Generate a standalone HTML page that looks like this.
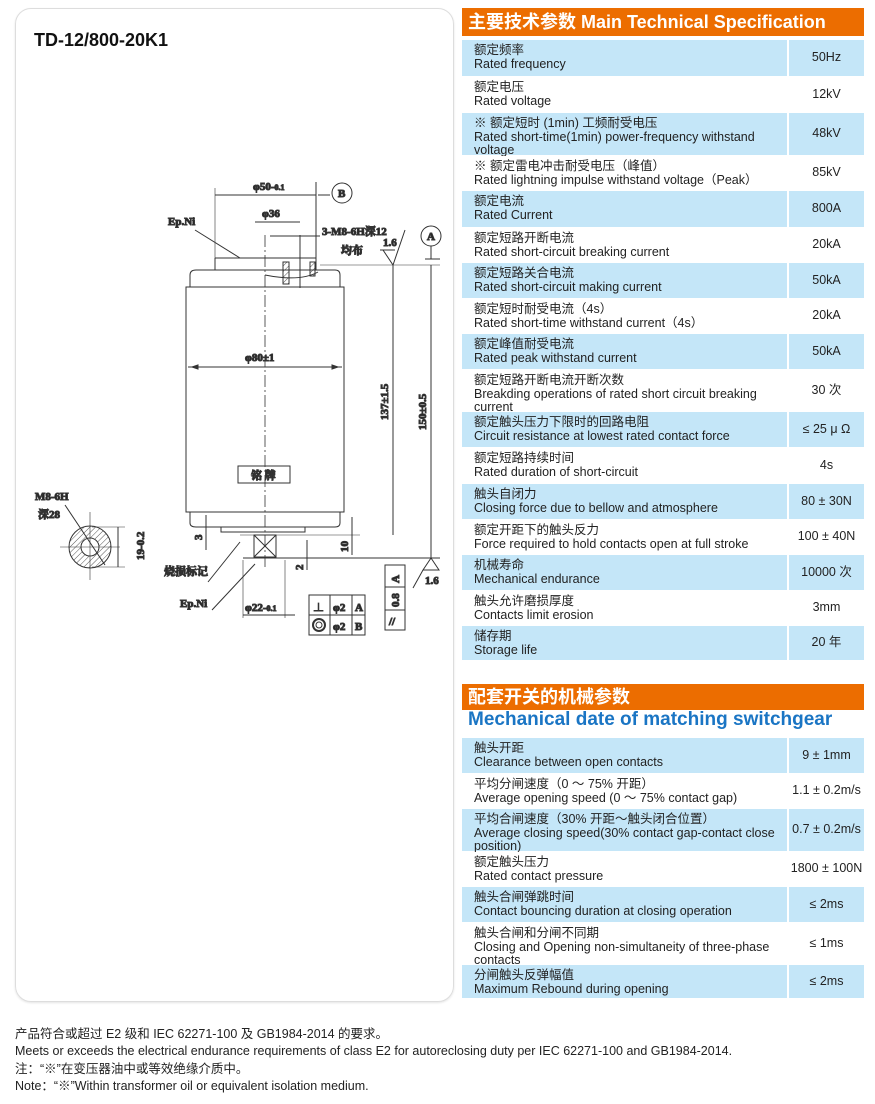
<!DOCTYPE html>
<html><head><meta charset="utf-8"><style>
body{margin:0;width:875px;height:1104px;background:#fff;position:relative;font-family:"Liberation Sans","Noto Sans CJK SC",sans-serif;overflow:hidden}
.panel{position:absolute;left:15px;top:8px;width:437px;height:992px;border:1px solid #ddd;border-radius:16px;box-shadow:0 1px 2px #e4e4e4}
.title{position:absolute;left:34px;top:30px;font-weight:bold;font-size:18px;color:#111}
.hdr{position:absolute;left:462px;width:402px;background:#ec6d00;color:#fff;font-weight:bold;font-size:18px;line-height:28px;padding-left:6px;box-sizing:border-box}
.row{position:absolute;left:462px;width:402px;font-size:12.5px;color:#222;line-height:13.7px}
.row .l{position:absolute;left:0;top:0;bottom:0;width:325px;padding:4px 0 0 12px;box-sizing:border-box}
.row .v{position:absolute;left:327px;right:0;top:0;bottom:0;display:flex;align-items:center;justify-content:center;font-size:12.5px}
.b .l,.b .v{background:#c4e6f8}
.w .l,.w .v{background:#fff}
.foot{position:absolute;left:15px;top:1026px;font-size:12.5px;line-height:17.3px;color:#222}
svg text{font-family:"Liberation Serif","Noto Serif CJK SC",serif;font-weight:bold;font-size:11px;fill:#222}
</style></head><body>
<div class="panel"></div>
<div class="title">TD-12/800-20K1</div>
<svg style="position:absolute;left:0;top:0" width="455" height="700" stroke="#333" fill="none" stroke-width="1">
<defs><pattern id="h" width="4" height="4" patternUnits="userSpaceOnUse" patternTransform="rotate(45)"><line x1="0" y1="0" x2="0" y2="4" stroke="#555" stroke-width="1"/></pattern></defs>
<line x1="265" y1="235" x2="265" y2="570" stroke-dasharray="12,3,2,3" stroke-width="0.8"/>
<line x1="215" y1="258" x2="316" y2="258"/>
<line x1="215" y1="258" x2="215" y2="270"/>
<line x1="316" y1="258" x2="316" y2="270"/>
<path d="M190 287 V275 Q190 270 196 270 H335 Q340 270 340 275 V287"/>
<path d="M265 275 Q300 282 318 272"/>
<rect x="283" y="262" width="6" height="22" fill="url(#h)"/>
<rect x="310" y="262" width="5" height="14" fill="url(#h)"/>
<line x1="300" y1="235" x2="300" y2="288"/>
<rect x="186" y="287" width="158" height="225"/>
<rect x="238" y="466" width="52" height="17"/>
<text x="251" y="479">铭  牌</text>
<line x1="188" y1="367" x2="342" y2="367"/>
<path d="M192 367 l6 -2 v4z M338 367 l-6 -2 v4z" fill="#333"/>
<text x="245" y="361">φ80±1</text>
<path d="M190 512 V523 Q190 527 196 527 H335 Q340 527 340 523 V512"/>
<path d="M221 527 V532 H305 V527"/>
<rect x="254" y="535" width="22" height="22"/>
<line x1="254" y1="535" x2="276" y2="557"/><line x1="276" y1="535" x2="254" y2="557"/>
<line x1="243" y1="558" x2="360" y2="558"/>
<line x1="240" y1="535" x2="360" y2="535" stroke-width="0.6"/>
<line x1="215" y1="188" x2="215" y2="258" stroke-width="0.6"/>
<line x1="215" y1="195" x2="316" y2="195"/>
<line x1="316" y1="182" x2="316" y2="258"/>
<line x1="318" y1="195" x2="330" y2="195"/>
<circle cx="342" cy="193" r="10"/><text x="338" y="197">B</text>
<text x="253" y="190">φ50-<tspan font-size="8">0.1</tspan></text>
<line x1="255" y1="222" x2="300" y2="222"/><text x="262" y="217">φ36</text>
<line x1="270" y1="236" x2="320" y2="236"/><text x="322" y="235">3-M8-6H深12</text><text x="341" y="254">均布</text>
<text x="168" y="225">Ep.Ni</text>
<line x1="195" y1="230" x2="240" y2="258"/>
<text x="383" y="246">1.6</text>
<path d="M383 250 L393 265 L405 230"/>
<line x1="380" y1="250" x2="395" y2="250"/>
<circle cx="431" cy="236" r="10"/><text x="427" y="240">A</text>
<line x1="425" y1="259" x2="440" y2="259"/><line x1="431" y1="246" x2="431" y2="259"/>
<line x1="393" y1="265" x2="393" y2="535"/><line x1="431" y1="265" x2="431" y2="558"/>
<line x1="320" y1="265" x2="440" y2="265" stroke-width="0.6"/>
<text transform="translate(388 420) rotate(-90)">137±1.5</text>
<text transform="translate(426 430) rotate(-90)">150±0.5</text>
<line x1="360" y1="558" x2="440" y2="558"/>
<path d="M431 558 l-8 12 h16z M423 570 l-10 18"/>
<text x="425" y="584">1.6</text>
<line x1="206" y1="515" x2="206" y2="550"/><text transform="translate(202 540) rotate(-90)">3</text>
<line x1="352" y1="517" x2="352" y2="555"/><text transform="translate(348 552) rotate(-90)">10</text>
<line x1="307" y1="540" x2="307" y2="570"/><text transform="translate(303 570) rotate(-90)">2</text>
<rect x="385" y="565" width="20" height="65"/><line x1="385" y1="587" x2="405" y2="587"/><line x1="385" y1="610" x2="405" y2="610"/>
<text transform="translate(399 583) rotate(-90)">A</text><text transform="translate(399 607) rotate(-90)">0.8</text><text x="389" y="625">//</text>
<text x="164" y="575">烧损标记</text>
<line x1="208" y1="582" x2="240" y2="542"/>
<text x="180" y="607">Ep.Ni</text>
<line x1="212" y1="610" x2="255" y2="564"/>
<line x1="243" y1="560" x2="243" y2="618" stroke-width="0.6"/><line x1="285" y1="560" x2="285" y2="618" stroke-width="0.6"/>
<line x1="243" y1="615" x2="295" y2="615"/>
<text x="245" y="611">φ22-<tspan font-size="8">0.1</tspan></text>
<rect x="309" y="595" width="56" height="40"/><line x1="309" y1="615" x2="365" y2="615"/><line x1="330" y1="595" x2="330" y2="635"/><line x1="352" y1="595" x2="352" y2="635"/>
<text x="313" y="611">⊥</text><text x="333" y="611">φ2</text><text x="355" y="611">A</text>
<circle cx="319" cy="625" r="6" stroke-width="2"/><circle cx="319" cy="625" r="3"/><text x="333" y="630">φ2</text><text x="355" y="630">B</text>
<text x="35" y="500">M8-6H</text><text x="38" y="518">深28</text>
<circle cx="90" cy="547" r="21" fill="url(#h)"/><circle cx="90" cy="547" r="9" fill="#fff"/>
<line x1="60" y1="547" x2="120" y2="547" stroke-width="0.6"/><line x1="90" y1="512" x2="90" y2="580" stroke-width="0.6"/>
<line x1="65" y1="505" x2="105" y2="565"/>
<line x1="92" y1="527" x2="125" y2="527" stroke-width="0.6"/><line x1="92" y1="567" x2="125" y2="567" stroke-width="0.6"/>
<line x1="118" y1="527" x2="118" y2="567"/>
<text transform="translate(144 560) rotate(-90)">19-0.2</text>
</svg>

<div class="hdr" style="top:8px;height:28px">主要技术参数 Main Technical Specification</div>
<div class="row b" style="top:40px;height:36px"><div class="l">额定频率<br>Rated frequency</div><div class="v">50Hz</div></div>
<div class="row w" style="top:77px;height:35px"><div class="l">额定电压<br>Rated voltage</div><div class="v">12kV</div></div>
<div class="row b" style="top:113px;height:42px"><div class="l">※ 额定短时 (1min) 工频耐受电压<br>Rated short-time(1min) power-frequency withstand<br>voltage</div><div class="v">48kV</div></div>
<div class="row w" style="top:156px;height:34px"><div class="l">※ 额定雷电冲击耐受电压（峰值）<br>Rated lightning impulse withstand voltage（Peak）</div><div class="v">85kV</div></div>
<div class="row b" style="top:191px;height:36px"><div class="l">额定电流<br>Rated Current</div><div class="v">800A</div></div>
<div class="row w" style="top:228px;height:34px"><div class="l">额定短路开断电流<br>Rated short-circuit breaking current</div><div class="v">20kA</div></div>
<div class="row b" style="top:263px;height:35px"><div class="l">额定短路关合电流<br>Rated short-circuit making current</div><div class="v">50kA</div></div>
<div class="row w" style="top:299px;height:34px"><div class="l">额定短时耐受电流（4s）<br>Rated short-time withstand current（4s）</div><div class="v">20kA</div></div>
<div class="row b" style="top:334px;height:35px"><div class="l">额定峰值耐受电流<br>Rated peak withstand current</div><div class="v">50kA</div></div>
<div class="row w" style="top:370px;height:41px"><div class="l">额定短路开断电流开断次数<br>Breakding operations of rated short circuit breaking<br>current</div><div class="v">30 次</div></div>
<div class="row b" style="top:412px;height:35px"><div class="l">额定触头压力下限时的回路电阻<br>Circuit resistance at lowest rated contact force</div><div class="v">≤ 25 μ Ω</div></div>
<div class="row w" style="top:448px;height:35px"><div class="l">额定短路持续时间<br>Rated duration of short-circuit</div><div class="v">4s</div></div>
<div class="row b" style="top:484px;height:35px"><div class="l">触头自闭力<br>Closing force due to bellow and atmosphere</div><div class="v">80 ± 30N</div></div>
<div class="row w" style="top:520px;height:34px"><div class="l">额定开距下的触头反力<br>Force required to hold contacts open at full stroke</div><div class="v">100 ± 40N</div></div>
<div class="row b" style="top:555px;height:35px"><div class="l">机械寿命<br>Mechanical endurance</div><div class="v">10000 次</div></div>
<div class="row w" style="top:591px;height:34px"><div class="l">触头允许磨损厚度<br>Contacts limit erosion</div><div class="v">3mm</div></div>
<div class="row b" style="top:626px;height:34px"><div class="l">储存期<br>Storage life</div><div class="v">20 年</div></div>

<div class="hdr" style="top:684px;height:26px;line-height:26px">配套开关的机械参数</div>
<div style="position:absolute;left:468px;top:709px;font-weight:bold;font-size:19px;color:#1a75c4">Mechanical date of matching switchgear</div>
<div class="row b" style="top:738px;height:35px"><div class="l">触头开距<br>Clearance between open contacts</div><div class="v">9 ± 1mm</div></div>
<div class="row w" style="top:774px;height:34px"><div class="l">平均分闸速度（0 ～ 75% 开距）<br>Average opening speed (0 ～ 75% contact gap)</div><div class="v">1.1 ± 0.2m/s</div></div>
<div class="row b" style="top:809px;height:42px"><div class="l">平均合闸速度（30% 开距～触头闭合位置）<br>Average closing speed(30% contact gap-contact close<br>position)</div><div class="v">0.7 ± 0.2m/s</div></div>
<div class="row w" style="top:852px;height:34px"><div class="l">额定触头压力<br>Rated contact pressure</div><div class="v">1800 ± 100N</div></div>
<div class="row b" style="top:887px;height:35px"><div class="l">触头合闸弹跳时间<br>Contact bouncing duration at closing operation</div><div class="v">≤ 2ms</div></div>
<div class="row w" style="top:923px;height:41px"><div class="l">触头合闸和分闸不同期<br>Closing and Opening non-simultaneity of three-phase<br>contacts</div><div class="v">≤ 1ms</div></div>
<div class="row b" style="top:965px;height:33px"><div class="l">分闸触头反弹幅值<br>Maximum Rebound during opening</div><div class="v">≤ 2ms</div></div>

<div class="foot">产品符合或超过 E2 级和 IEC 62271-100 及 GB1984-2014 的要求。<br>Meets or exceeds the electrical endurance requirements of class E2 for autoreclosing duty per IEC 62271-100 and GB1984-2014.<br>注：“※”在变压器油中或等效绝缘介质中。<br>Note：“※”Within transformer oil or equivalent isolation medium.</div>
</body></html>
